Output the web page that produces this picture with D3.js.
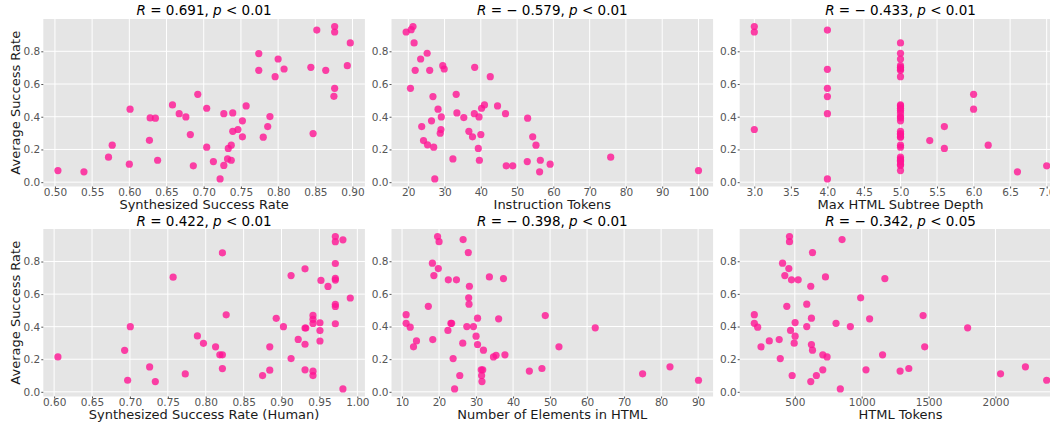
<!DOCTYPE html>
<html>
<head>
<meta charset="utf-8">
<script src="https://cdn.jsdelivr.net/npm/d3@7"></script>
<style>
body { margin: 0; background: #fff; }
svg { display: block; font-family: "DejaVu Sans", sans-serif; }
</style>
</head>
<body>
<div class="canvas"></div>
<script>
// data: [x, average success rate]
const synthPts = [[0.504,0.071],[0.539,0.063],[0.572,0.153],[0.577,0.226],[0.600,0.110],[0.601,0.446],[0.627,0.256],[0.628,0.393],[0.635,0.391],[0.638,0.134],[0.658,0.472],[0.667,0.419],[0.676,0.399],[0.682,0.291],[0.686,0.100],[0.692,0.537],[0.704,0.452],[0.704,0.214],[0.713,0.126],[0.722,0.020],[0.727,0.419],[0.727,0.102],[0.732,0.142],[0.733,0.206],[0.737,0.226],[0.737,0.134],[0.739,0.311],[0.739,0.423],[0.746,0.322],[0.752,0.375],[0.752,0.277],[0.757,0.466],[0.774,0.786],[0.774,0.684],[0.780,0.275],[0.786,0.340],[0.789,0.401],[0.796,0.645],[0.800,0.753],[0.808,0.692],[0.844,0.702],[0.847,0.297],[0.852,0.930],[0.864,0.684],[0.876,0.951],[0.876,0.918],[0.876,0.574],[0.875,0.525],[0.893,0.712],[0.897,0.851]];

const tokenPts = [[19.4,0.918],[20.8,0.932],[21.3,0.951],[21.6,0.851],[20.6,0.574],[21.9,0.684],[23.4,0.753],[25.2,0.788],[25.9,0.684],[26.8,0.523],[28.2,0.446],[26.4,0.375],[29.1,0.399],[23.7,0.340],[24.2,0.254],[25.3,0.228],[27.0,0.214],[27.3,0.020],[29.0,0.322],[28.8,0.299],[29.5,0.712],[29.9,0.692],[33.2,0.537],[33.4,0.423],[32.3,0.142],[35.3,0.395],[36.7,0.311],[38.3,0.702],[38.2,0.419],[37.7,0.277],[39.5,0.399],[39.3,0.206],[39.6,0.134],[40.0,0.291],[40.2,0.452],[41.0,0.472],[42.6,0.645],[44.6,0.466],[46.8,0.419],[47.0,0.100],[48.8,0.100],[52.9,0.391],[52.8,0.126],[54.3,0.277],[55.2,0.226],[56.4,0.134],[56.2,0.063],[59.1,0.110],[75.8,0.153],[100,0.071]];

const depthPts = [[3,0.951],[3,0.918],[3,0.322],[4,0.930],[4,0.690],[4,0.574],[4,0.523],[4,0.419],[4,0.020],
  [5,0.851],[5,0.788],[5,0.753],[5,0.712],[5,0.702],[5,0.692],[5,0.684],[5,0.645],[5,0.472],[5,0.466],[5,0.452],[5,0.440],[5,0.423],[5,0.401],[5,0.393],[5,0.375],[5,0.311],[5,0.297],[5,0.291],[5,0.277],[5,0.275],[5,0.226],[5,0.214],[5,0.153],[5,0.142],[5,0.134],[5,0.126],[5,0.110],[5,0.102],[5,0.071],
  [5.4,0.254],[5.6,0.340],[5.6,0.206],[6,0.537],[6,0.446],[6.2,0.226],[6.6,0.063],[7,0.100]];

const humanPts = [[0.605,0.214],[0.693,0.255],[0.697,0.071],[0.7005,0.400],[0.726,0.153],[0.7335,0.063],[0.757,0.704],[0.773,0.110],[0.789,0.343],[0.797,0.298],[0.813,0.276],[0.8186,0.227],[0.822,0.227],[0.822,0.853],[0.822,0.143],[0.827,0.473],[0.875,0.100],[0.8845,0.276],[0.8845,0.133],[0.893,0.451],[0.9025,0.400],[0.9126,0.714],[0.9126,0.204],[0.922,0.322],[0.931,0.755],[0.931,0.392],[0.932,0.392],[0.931,0.292],[0.931,0.135],[0.9415,0.469],[0.9415,0.445],[0.9415,0.420],[0.9415,0.127],[0.9415,0.100],[0.9507,0.424],[0.9507,0.376],[0.9507,0.312],[0.952,0.684],[0.9613,0.647],[0.971,0.953],[0.971,0.922],[0.971,0.788],[0.971,0.696],[0.971,0.686],[0.971,0.537],[0.971,0.524],[0.971,0.418],[0.981,0.933],[0.981,0.018],[0.9907,0.576]];

const elemPts = [[11.1,0.473],[11.1,0.420],[12.2,0.396],[13.1,0.276],[13.9,0.312],[17.1,0.524],[18.2,0.788],[18.3,0.320],[18.6,0.712],[19.6,0.951],[20.0,0.920],[19.8,0.755],[22.5,0.686],[22.4,0.376],[23.2,0.420],[23.4,0.420],[23.8,0.204],[24.2,0.018],[24.7,0.686],[25.6,0.100],[26.5,0.933],[26.4,0.298],[27.5,0.400],[27.9,0.853],[28.0,0.576],[28.1,0.537],[28.2,0.647],[29.3,0.400],[30.0,0.341],[30.4,0.451],[30.4,0.290],[31.4,0.135],[31.8,0.135],[31.5,0.100],[31.6,0.063],[32.0,0.255],[33.6,0.704],[34.7,0.214],[35.4,0.224],[36.1,0.447],[37.4,0.694],[37.8,0.227],[44.4,0.127],[47.8,0.143],[48.7,0.467],[52.4,0.276],[62.2,0.392],[75.0,0.110],[82.4,0.153],[90.1,0.071]];

const htmlTokPts = [[197,0.473],[197,0.420],[222,0.396],[247,0.276],[309,0.312],[383,0.320],[391,0.204],[408,0.788],[425,0.712],[440,0.524],[455,0.755],[460,0.951],[460,0.920],[468,0.376],[475,0.686],[480,0.100],[495,0.298],[502,0.424],[502,0.341],[525,0.686],[589,0.537],[589,0.400],[619,0.647],[619,0.063],[624,0.451],[624,0.290],[632,0.853],[632,0.255],[661,0.100],[709,0.135],[709,0.227],[729,0.704],[741,0.214],[808,0.420],[840,0.018],[853,0.933],[915,0.400],[992,0.576],[1032,0.135],[1059,0.447],[1156,0.227],[1173,0.694],[1287,0.127],[1352,0.143],[1459,0.467],[1471,0.276],[1792,0.392],[2038,0.110],[2224,0.153],[2383,0.071]];

// labels, stats and ticks
const xLabels = ['Synthesized Success Rate', 'Instruction Tokens', 'Max HTML Subtree Depth',
  'Synthesized Success Rate (Human)', 'Number of Elements in HTML', 'HTML Tokens'];
const corrR = [0.691, -0.579, -0.433, 0.422, -0.398, -0.342];
const pVals = ['0.01', '0.01', '0.01', '0.01', '0.01', '0.05'];

const synthTicks = [0.5, 0.55, 0.6, 0.65, 0.7, 0.75, 0.8, 0.85, 0.9];
const tokenTicks = [20, 30, 40, 50, 60, 70, 80, 90, 100];
const depthTicks = [3, 3.5, 4, 4.5, 5, 5.5, 6, 6.5, 7];
const humanTicks = [0.6, 0.65, 0.7, 0.75, 0.8, 0.85, 0.9, 0.95, 1.0];
const elemTicks = [10, 20, 30, 40, 50, 60, 70, 80, 90];
const htmlTokTicks = [500, 1000, 1500, 2000];
const yTicks = [0, 0.2, 0.4, 0.6, 0.8];

const panels = [
  {pts: synthPts, ticks: synthTicks, fmt: '.2f'},
  {pts: tokenPts, ticks: tokenTicks, fmt: 'd'},
  {pts: depthPts, ticks: depthTicks, fmt: '.1f'},
  {pts: humanPts, ticks: humanTicks, fmt: '.2f'},
  {pts: elemPts, ticks: elemTicks, fmt: 'd'},
  {pts: htmlTokPts, ticks: htmlTokTicks, fmt: 'd'}
];

// layout
const dims = {width: 1050, height: 423, left: 43.3, top: 19, pw: 321.6, ph: 167.5, colStep: 348.2, rowStep: 210};

const svg = d3.select('.canvas')
  .append('svg')
  .attr('width', dims.width)
  .attr('height', dims.height);

// matplotlib-like 5% padding around the data
const padded = (vals) => {
  const [lo, hi] = d3.extent(vals);
  const m = (hi - lo) * 0.05;
  return [lo - m, hi + m];
};

panels.forEach((p, i) => {
  const col = i % 3, row = Math.floor(i / 3);
  const g = svg.append('g')
    .attr('transform', `translate(${dims.left + col * dims.colStep}, ${dims.top + row * dims.rowStep})`);

  const x = d3.scaleLinear().domain(padded(p.pts.map(d => d[0]))).range([0, dims.pw]);
  const y = d3.scaleLinear().domain(padded(p.pts.map(d => d[1]))).range([dims.ph, 0]);

  // background
  g.append('rect')
    .attr('width', dims.pw)
    .attr('height', dims.ph)
    .attr('fill', '#e5e5e5');

  // grid
  g.append('g').selectAll('line')
    .data(p.ticks)
    .join('line')
    .attr('x1', d => x(d)).attr('x2', d => x(d))
    .attr('y1', 0).attr('y2', dims.ph)
    .attr('stroke', '#fff').attr('stroke-width', 1);

  g.append('g').selectAll('line')
    .data(yTicks)
    .join('line')
    .attr('x1', 0).attr('x2', dims.pw)
    .attr('y1', d => y(d)).attr('y2', d => y(d))
    .attr('stroke', '#fff').attr('stroke-width', 1);

  // points
  g.append('g').selectAll('circle')
    .data(p.pts)
    .join('circle')
    .attr('cx', d => x(d[0]))
    .attr('cy', d => y(d[1]))
    .attr('r', 3.6)
    .attr('fill', '#ff1493')
    .attr('fill-opacity', 0.8);

  // axes
  const xAxis = g.append('g')
    .attr('transform', `translate(0, ${dims.ph})`)
    .call(d3.axisBottom(x).tickValues(p.ticks).tickFormat(d3.format(p.fmt)).tickSize(2).tickPadding(0.5));

  const yAxis = g.append('g')
    .call(d3.axisLeft(y).tickValues(yTicks).tickFormat(d3.format('.1f')).tickSize(2).tickPadding(1));

  [xAxis, yAxis].forEach(a => {
    a.select('.domain').remove();
    a.selectAll('.tick line').attr('stroke', '#555');
    a.selectAll('.tick text')
      .attr('fill', '#555')
      .attr('font-size', 10.5)
      .attr('font-family', '"DejaVu Sans", sans-serif');
  });

  // x label
  g.append('text')
    .attr('x', dims.pw / 2)
    .attr('y', dims.ph + 22.5)
    .attr('text-anchor', 'middle')
    .attr('font-size', 13)
    .attr('fill', '#1a1a1a')
    .text(xLabels[i]);

  // y label only on the first column
  if (col === 0) {
    g.append('text')
      .attr('transform', 'rotate(-90)')
      .attr('x', -dims.ph / 2)
      .attr('y', -23)
      .attr('text-anchor', 'middle')
      .attr('font-size', 13)
      .attr('fill', '#1a1a1a')
      .text('Average Success Rate');
  }

  // title: R = .., p < ..
  const r = corrR[i];
  const title = g.append('text')
    .attr('x', dims.pw / 2)
    .attr('y', row === 0 ? -3.8 : -3)
    .attr('text-anchor', 'middle')
    .attr('font-size', 13.5)
    .attr('fill', '#000');
  title.append('tspan').attr('font-style', 'italic').text('R');
  title.append('tspan').text(' = ' + (r < 0 ? '\u2212 ' : '') + Math.abs(r).toFixed(3) + ', ');
  title.append('tspan').attr('font-style', 'italic').text('p');
  title.append('tspan').text(' < ' + pVals[i]);
});
</script>
</body>
</html>
